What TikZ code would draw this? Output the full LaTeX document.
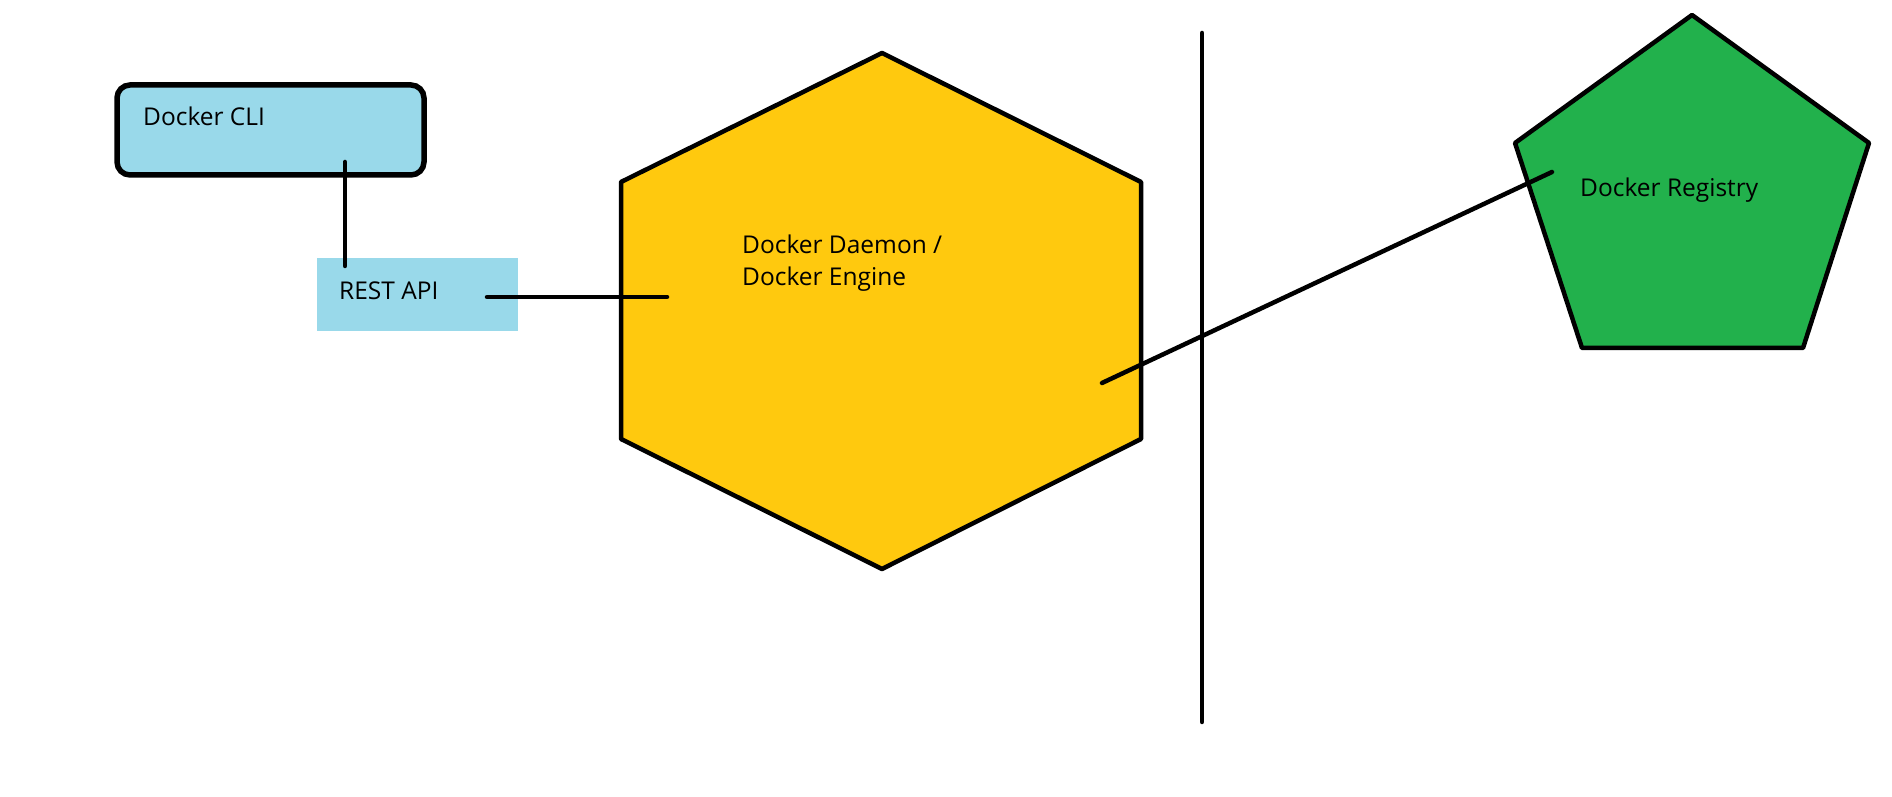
\documentclass[tikz,border=0pt]{standalone}
\usepackage{fontspec}
\usepackage{tikz}
\usepackage{tkz-euclide}
\usepackage{xcolor}
\setmainfont{Open Sans}

\definecolor{cliblue}{HTML}{99D9EA}
\definecolor{enginegold}{HTML}{FFC90E}
\definecolor{registrygreen}{HTML}{22B14C}

\tikzset{
    lbl/.style={anchor=base west, inner sep=0pt, font=\fontsize{24.5}{28}\selectfont},
    wire/.style={draw=black, line width=4.5pt, line cap=round},
    clibox/.style={draw=black, fill=cliblue, line width=5.5pt, rounded corners=13pt,
        minimum width=307pt, minimum height=90pt, inner sep=0pt},
    restbox/.style={fill=cliblue, minimum width=201pt, minimum height=73pt, inner sep=0pt}
}

\begin{document}
\begin{tikzpicture}[x=1pt,y=1pt]
    \useasboundingbox (0,0) rectangle (1892,797);
    \tkzDefPoints{882/744/T,1141/615/UR,1141/358/LR,882/228/B,621/358/LL,621/615/UL}
    \tkzDefPoints{1692/782/P,1869/654/Q,1803/449/R,1582/449/S,1515/654/V}
    \tkzDrawPolygon[draw=black,fill=enginegold,line width=4.5pt](T,UR,LR,B,LL,UL)
    \tkzDrawPolygon[draw=black,fill=registrygreen,line width=4.5pt](P,Q,R,S,V)
    \node[clibox] (cli) at (270.5,667) {};
    \node[restbox] (rest) at (417.5,502.5) {};
    % connector ends
    \tkzDefPoints{345/635/c1,345/531/c2,487/500/r1,667/500/r2}
    \tkzDefPoints{1102/414/e1,1552/625/e2,1202/764/s1,1202/75/s2}
    \tkzDrawSegments[wire](c1,c2 r1,r2 e1,e2 s1,s2)
    \node[lbl] (clitxt) at (143,671) {Docker CLI};
    \node[lbl] (resttxt) at (339,497) {REST API};
    \node[lbl] (enginetxt) at (742,543) {Docker Daemon /};
    \node[lbl] (enginetxtb) at (742,511) {Docker Engine};
    \node[lbl] (registrytxt) at (1580,600) {Docker Registry};
\end{tikzpicture}
\end{document}
